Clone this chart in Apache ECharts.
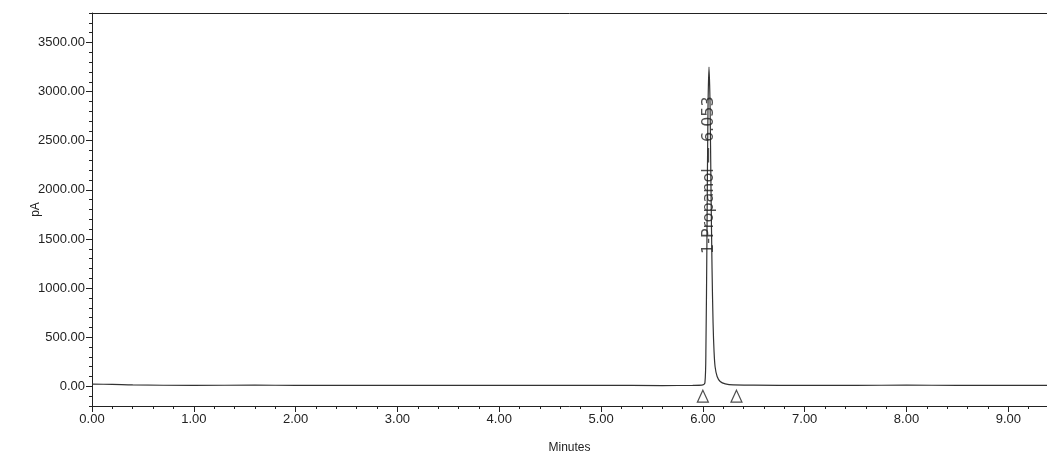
<!DOCTYPE html>
<html>
<head>
<meta charset="utf-8">
<script src="https://cdn.jsdelivr.net/npm/echarts@6/dist/echarts.min.js"></script>
<style>html,body{margin:0;padding:0;background:#fff}#c{width:1047px;height:455px}</style>
</head>
<body>
<div id="c"></div>
<script>
// Chromatogram trace (minutes, pA)
const times = [0, 0.2, 0.4, 1.0, 1.6, 2.0, 3.0, 3.6, 4.0, 5.0, 5.6, 5.9, 5.99, 6.02, 6.03, 6.04, 6.05, 6.06, 6.07, 6.08, 6.09, 6.10, 6.11, 6.12, 6.14, 6.17, 6.22, 6.30, 6.5, 7.0, 7.5, 8.0, 8.5, 9.0, 9.4];
const signal = [22, 20, 14, 10, 12, 10, 11, 10, 10, 10, 8, 10, 12, 35, 400, 1500, 2800, 3250, 2900, 2000, 1200, 650, 350, 200, 100, 50, 25, 14, 12, 10, 10, 12, 10, 10, 10];
// Peak integration markers (start / end)
const markerTimes = [6.00, 6.33];
const markerLevel = -100;
// Peak annotation
const peakName = "1-Propanol";
const peakTime = 6.053;
const peakLabelPos = [6.06, 2150];
// Axis ticks
const yTickLabels = [0, 500, 1000, 1500, 2000, 2500, 3000, 3500];
const xTickLabels = [0, 1, 2, 3, 4, 5, 6, 7, 8, 9];

const chart = echarts.init(document.getElementById('c'), null, {renderer: 'canvas'});
const font = 'Liberation Sans, Arial, sans-serif';
const trace = times.map((t, i) => [t, signal[i]]);
const markers = markerTimes.map(t => [t, markerLevel]);

chart.setOption({
  animation: false,
  backgroundColor: '#fff',
  grid: {left: 92, right: 0, top: 13, bottom: 49, show: false, containLabel: false, outerBoundsMode: 'none'},
  xAxis: [{
    type: 'value', min: 0, max: 9.38, interval: 1, position: 'bottom',
    name: 'Minutes', nameLocation: 'middle', nameGap: 36, nameMoveOverlap: false,
    nameTextStyle: {fontFamily: font, fontSize: 12, color: '#222'},
    axisLine: {onZero: false, lineStyle: {color: '#222', width: 1}},
    axisTick: {show: true, length: 6, lineStyle: {color: '#222'}},
    minorTick: {show: true, splitNumber: 5, length: 3, lineStyle: {color: '#222'}},
    splitLine: {show: false},
    axisLabel: {
      customValues: xTickLabels,
      fontFamily: font, fontSize: 13, color: '#222', margin: 7,
      formatter: v => v.toFixed(2)
    }
  }, {
    type: 'value', min: 0, max: 9.38, position: 'top',
    axisLine: {show: true, onZero: false, lineStyle: {color: '#222', width: 1}},
    axisTick: {show: false}, axisLabel: {show: false}, splitLine: {show: false}
  }],
  yAxis: [{
    type: 'value', min: -200, max: 3800,
    name: 'pA', nameLocation: 'middle', nameGap: 50, nameRotate: 90, nameMoveOverlap: false,
    nameTextStyle: {fontFamily: font, fontSize: 12, color: '#222'},
    axisLine: {show: true, onZero: false, lineStyle: {color: '#222', width: 1}},
    axisTick: {show: true, length: 6, customValues: yTickLabels, lineStyle: {color: '#222'}},
    splitLine: {show: false},
    axisLabel: {
      customValues: yTickLabels,
      fontFamily: font, fontSize: 13, color: '#222', margin: 7,
      formatter: v => v.toFixed(2)
    }
  }, {
    type: 'value', min: -200, max: 3800, interval: 100, position: 'left',
    axisLine: {show: false, onZero: false},
    axisTick: {show: true, length: 3, lineStyle: {color: '#222'}},
    axisLabel: {show: false},
    splitLine: {show: false}
  }],
  series: [{
    type: 'line', data: trace, symbol: 'none', smooth: 0.3,
    lineStyle: {color: '#333', width: 1.2}, z: 3
  }, {
    type: 'scatter', data: markers, symbol: 'triangle', symbolSize: [11, 12],
    itemStyle: {color: '#fff', borderColor: '#222', borderWidth: 1.2}, z: 4
  }, {
    type: 'scatter', data: [peakLabelPos], symbolSize: 0, z: 5,
    label: {
      show: true, position: 'inside', rotate: 90,
      formatter: peakName + ' — ' + peakTime.toFixed(3),
      fontFamily: 'DejaVu Sans, sans-serif', fontSize: 16, color: '#222'
    }
  }]
});
</script>
</body>
</html>
